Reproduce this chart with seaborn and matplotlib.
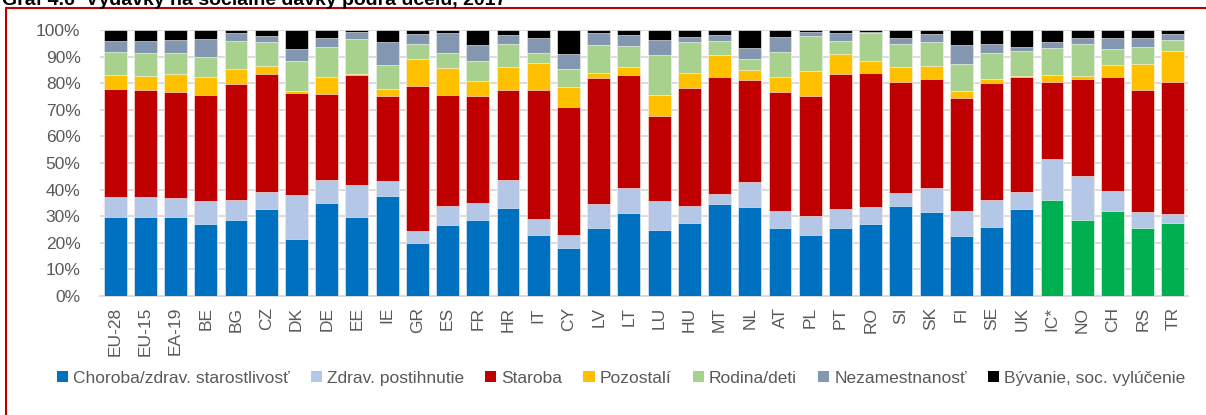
import numpy as np
import pandas as pd
import matplotlib
matplotlib.use("Agg")
import matplotlib.pyplot as plt
from matplotlib.patches import Patch
from matplotlib.lines import Line2D
import seaborn as sns

# =========================
# DATA (shares in %)
# =========================
countries = ["EU-28", "EU-15", "EA-19", "BE", "BG", "CZ", "DK", "DE", "EE", "IE",
             "GR", "ES", "FR", "HR", "IT", "CY", "LV", "LT", "LU", "HU",
             "MT", "NL", "AT", "PL", "PT", "RO", "SI", "SK", "FI", "SE",
             "UK", "IC*", "NO", "CH", "RS", "TR"]

choroba = [29.6, 29.8, 29.6, 26.9, 28.7, 32.8, 21.4, 35.1, 29.8, 37.7,
           20.1, 26.8, 28.6, 33.1, 22.9, 18.2, 25.4, 31.3, 24.9, 27.6,
           34.7, 33.6, 25.7, 22.8, 25.4, 27.2, 34.0, 31.7, 22.6, 26.1,
           32.8, 36.0, 28.6, 31.8, 25.4, 27.4]
postihnutie = [7.5, 7.5, 7.2, 8.7, 7.4, 6.4, 16.4, 8.6, 11.8, 5.5,
               4.2, 7.2, 6.5, 10.6, 5.9, 4.6, 9.1, 9.4, 10.7, 6.1,
               3.6, 9.3, 6.4, 7.3, 7.4, 6.4, 4.8, 9.0, 9.4, 10.0,
               6.4, 15.5, 16.4, 7.8, 6.1, 3.6]
staroba = [40.6, 40.3, 39.8, 40.0, 43.6, 44.1, 38.5, 32.4, 41.5, 32.1,
           54.8, 41.7, 40.1, 33.7, 48.8, 48.4, 47.6, 42.5, 31.9, 44.5,
           43.9, 38.2, 44.5, 45.1, 50.8, 50.4, 41.7, 41.0, 42.6, 44.1,
           43.3, 29.1, 36.7, 42.7, 46.1, 49.5]
pozostali = [5.4, 5.2, 6.7, 6.6, 5.5, 3.2, 0.8, 6.1, 0.2, 2.6,
             10.1, 10.0, 5.5, 8.8, 9.9, 7.5, 1.6, 2.8, 7.9, 5.5,
             8.4, 4.0, 5.7, 9.3, 7.5, 4.3, 5.7, 4.8, 2.6, 1.3,
             0.3, 2.5, 1.0, 4.7, 9.6, 11.7]
rodina = [8.5, 8.6, 8.1, 7.8, 10.7, 8.9, 11.1, 11.5, 13.3, 9.1,
          5.5, 5.5, 7.6, 8.7, 4.0, 6.8, 10.7, 8.1, 15.3, 11.8,
          5.4, 4.0, 9.4, 13.2, 4.9, 10.7, 8.5, 9.1, 10.0, 10.0,
          9.4, 10.3, 12.0, 6.0, 6.5, 4.2]
nezamestnanost = [4.3, 4.5, 5.0, 6.7, 3.0, 2.5, 4.5, 3.3, 2.5, 8.6,
                  3.8, 7.5, 6.1, 3.3, 5.5, 5.5, 4.5, 3.9, 5.4, 1.9,
                  2.2, 4.1, 5.8, 1.4, 3.0, 0.2, 2.4, 2.9, 7.2, 3.4,
                  1.3, 2.0, 2.3, 3.9, 3.4, 2.1]
byvanie = [4.1, 4.1, 3.6, 3.3, 1.1, 2.1, 7.3, 3.0, 0.9, 4.4,
           1.5, 1.3, 5.6, 1.8, 3.0, 9.0, 1.1, 2.0, 3.9, 2.6,
           1.8, 6.8, 2.5, 0.9, 1.0, 0.8, 2.9, 1.5, 5.6, 5.1,
           6.5, 4.6, 3.0, 3.1, 2.9, 1.5]

series_names = ["Choroba/zdrav. starostlivosť", "Zdrav. postihnutie", "Staroba",
                "Pozostalí", "Rodina/deti", "Nezamestnanosť", "Bývanie, soc. vylúčenie"]
series_values = [choroba, postihnutie, staroba, pozostali, rodina, nezamestnanost, byvanie]
colors = ["#0070C0", "#B4C7E7", "#C00000", "#FFC000", "#A9D18E", "#8497B0", "#000000"]
non_eu = ["IC*", "NO", "CH", "RS", "TR"]
non_eu_color = "#00B050"

# =========================
# PREP (normalise to 100 % and stack)
# =========================
df = pd.DataFrame(dict(zip(series_names, series_values)), index=countries)
df = df.div(df.sum(axis=1), axis=0) * 100
cum = df.cumsum(axis=1)

# =========================
# PLOT
# =========================
sns.set_theme(style="white")
plt.rcParams["font.family"] = ["Liberation Sans", "DejaVu Sans"]

fig = plt.figure(figsize=(12.06, 4.15), dpi=100)
ax = fig.add_axes([100 / 1206, 1 - 296 / 415, 1088 / 1206, 266 / 415])

grey_text = "#595959"
bar_w = 0.76

# draw from the top segment down so each lower segment covers the one above
for i in range(len(series_names) - 1, -1, -1):
    name = series_names[i]
    plot_df = pd.DataFrame({"country": countries, "val": cum[name].values})
    if i == 0:
        pal = {c: (non_eu_color if c in non_eu else colors[0]) for c in countries}
        sns.barplot(data=plot_df, x="country", y="val", hue="country", palette=pal,
                    width=bar_w, legend=False, ax=ax, saturation=1,
                    edgecolor="white", linewidth=0.4, zorder=3)
    else:
        sns.barplot(data=plot_df, x="country", y="val", color=colors[i],
                    width=bar_w, ax=ax, saturation=1,
                    edgecolor="white", linewidth=0.4, zorder=3)

ax.set_ylim(0, 100)
ax.set_xlim(-0.5, len(countries) - 0.5)
ax.set_yticks(np.arange(0, 101, 10))
ax.set_yticklabels([f"{v}%" for v in range(0, 101, 10)])
ax.set_xlabel("")
ax.set_ylabel("")
ax.yaxis.grid(True, color="#D9D9D9", linewidth=1.3, zorder=0)
ax.set_axisbelow(True)
for s in ["top", "right", "left"]:
    ax.spines[s].set_visible(False)
ax.spines["bottom"].set_color("#D9D9D9")
ax.spines["bottom"].set_linewidth(1.3)
ax.tick_params(axis="y", colors=grey_text, labelsize=12.5, length=0, pad=14)
ax.tick_params(axis="x", colors=grey_text, labelsize=12.5, length=0, pad=8,
               labelrotation=90)

# legend
handles = [Patch(facecolor=c, edgecolor="none") for c in colors]
fig.legend(handles, series_names, loc="center", bbox_to_anchor=(0.515, 1 - 378 / 415),
           ncol=7, frameon=False, fontsize=12.5, labelcolor=grey_text,
           handlelength=0.65, handleheight=0.65, handletextpad=0.3, columnspacing=1.2)

# frame (left and top only visible) and cropped title
fig.add_artist(Line2D([6 / 1206, 6 / 1206], [0, 1 - 8 / 415], transform=fig.transFigure,
                      color="#C00000", linewidth=1.5))
fig.add_artist(Line2D([6 / 1206, 1], [1 - 8 / 415, 1 - 8 / 415], transform=fig.transFigure,
                      color="#C00000", linewidth=1.5))
fig.text(0.002, 1 - 5 / 415, "Graf 4.6  Výdavky na sociálne dávky podľa účelu, 2017",
         fontsize=14, fontweight="bold", va="baseline", ha="left", color="black")

fig.savefig("out.png", dpi=100)
